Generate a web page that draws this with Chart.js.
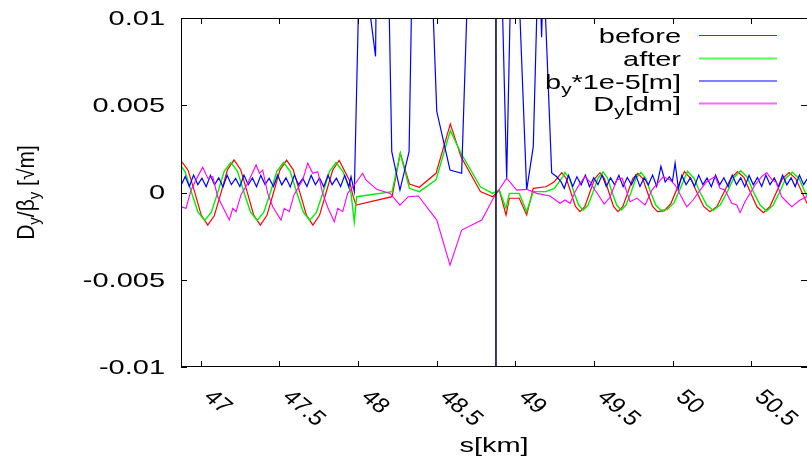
<!DOCTYPE html>
<html><head><meta charset="utf-8">
<script src="https://cdn.jsdelivr.net/npm/chart.js@4.4.1/dist/chart.umd.min.js"></script>
<style>html,body{margin:0;padding:0;background:#fff;}canvas{display:block;}</style>
</head><body>
<canvas id="c" width="807" height="463"></canvas>
<script>
// ---- axis ranges / ticks ----
const xRange = [46.876, 50.853];
const yRange = [-0.01, 0.01];
const xTicks = [47, 47.5, 48, 48.5, 49, 49.5, 50, 50.5];
const xTickLabels = ['47', '47.5', '48', '48.5', '49', '49.5', '50', '50.5'];
const yTicks = [-0.01, -0.005, 0, 0.005, 0.01];
const yTickLabels = ['-0.01', '-0.005', '0', '0.005', '0.01'];
const markerS = 48.877;

// ---- series: before (red) ----
const sBefore = [46.879,46.921,46.963,47.004,47.046,47.088,47.130,47.171,47.213,47.255,47.297,47.338,47.380,47.422,47.464,47.505,47.547,47.589,47.631,47.673,47.714,47.756,47.798,47.840,47.881,
47.945,47.967,47.988,48.217,48.269,48.327,48.390,48.496,48.587,48.655,48.778,48.856,48.898,48.941,48.962,49.025,49.072,49.114,49.195,49.248,
49.295,49.324,49.353,49.382,49.411,49.442,49.473,49.505,49.538,49.566,49.595,49.624,49.652,49.683,49.715,49.746,49.778,49.809,49.840,49.872,49.903,49.945,49.989,50.031,50.074,50.115,50.154,50.196,50.237,50.281,50.325,50.368,50.412,50.453,50.494,50.535,50.576,50.617,50.658,50.699,50.739,50.781,50.822,50.863];
const before = [0.00178,0.00128,0.00002,-0.00128,-0.00187,-0.00132,-0.00002,0.00130,0.00187,0.00131,0.00001,-0.00130,-0.00187,-0.00131,0.00000,0.00130,0.00186,0.00130,0.00001,-0.00130,-0.00187,-0.00131,0.00000,0.00129,0.00184,
0.00072,-0.00014,-0.00072,-0.00024,0.00225,0.00049,0.00030,0.00110,0.00393,0.00205,0.00005,-0.00024,0.00014,-0.00129,-0.00033,-0.00033,-0.00129,0.00024,0.00033,0.00062,
0.00114,0.00080,0.00000,-0.00080,-0.00110,-0.00080,0.00000,0.00080,0.00114,0.00080,0.00000,-0.00080,-0.00110,-0.00080,0.00000,0.00080,0.00110,0.00080,0.00000,-0.00080,-0.00110,-0.00105,-0.00062,0.00030,0.00120,0.00080,0.00000,-0.00080,-0.00110,-0.00080,0.00000,0.00080,0.00120,0.00085,0.00000,-0.00082,-0.00116,-0.00082,0.00000,0.00081,0.00114,0.00080,0.00000,-0.00080];

// ---- series: after (green) ----
const sAfter = [46.859,46.901,46.943,46.984,47.026,47.068,47.110,47.151,47.193,47.235,47.277,47.318,47.360,47.402,47.444,47.485,47.527,47.569,47.611,47.653,47.694,47.736,47.778,47.820,47.861,
47.905,47.956,47.977,47.992,48.217,48.269,48.327,48.390,48.496,48.587,48.655,48.778,48.856,48.898,48.941,48.962,49.025,49.072,49.114,49.195,49.248,49.301,
49.315,49.344,49.373,49.402,49.431,49.462,49.493,49.525,49.558,49.586,49.615,49.644,49.672,49.703,49.735,49.766,49.798,49.829,49.860,49.892,49.923,49.965,50.009,50.051,50.094,50.135,50.174,50.216,50.257,50.301,50.345,50.388,50.432,50.473,50.514,50.555,50.596,50.637,50.678,50.719,50.759,50.801,50.842,50.883];
const after = [0.00172,0.00122,0.00000,-0.00113,-0.00160,-0.00114,0.00001,0.00123,0.00173,0.00122,-0.00001,-0.00113,-0.00160,-0.00113,0.00000,0.00122,0.00172,0.00123,0.00001,-0.00112,-0.00160,-0.00114,0.00000,0.00122,0.00172,
0.00120,-0.00005,-0.00168,-0.00024,0.00005,0.00225,0.00024,0.00005,0.00072,0.00355,0.00225,0.00033,-0.00005,0.00014,-0.00091,-0.00005,-0.00005,-0.00110,0.00005,0.00005,0.00024,0.00090,
0.00115,0.00080,0.00000,-0.00072,-0.00102,-0.00072,0.00000,0.00082,0.00118,0.00082,0.00000,-0.00072,-0.00102,-0.00072,0.00000,0.00082,0.00115,0.00080,0.00000,-0.00072,-0.00100,-0.00098,-0.00058,0.00030,0.00122,0.00082,0.00000,-0.00072,-0.00102,-0.00072,0.00000,0.00085,0.00125,0.00088,0.00000,-0.00072,-0.00106,-0.00074,0.00000,0.00082,0.00116,0.00082,0.00000,-0.00072];

// ---- series: beta_y * 1e-5 [m] (blue) ----
const sBeta = [46.876,46.903,46.929,46.956,46.983,47.009,47.036,47.063,47.089,47.116,47.143,47.169,47.196,47.223,47.250,47.276,47.303,47.330,47.356,47.383,47.410,47.436,47.463,47.490,47.516,47.543,47.570,47.596,47.623,47.650,47.676,47.703,47.730,47.756,47.783,47.810,47.836,47.863,47.890,47.916,47.943,
47.956,47.977,48.013,48.064,48.112,48.121,48.153,48.191,48.215,48.267,48.325,48.350,48.407,48.464,48.501,48.585,48.659,48.699,48.808,48.909,48.945,48.979,49.011,49.072,49.114,49.144,49.154,49.167,49.179,49.231,49.263,49.290,49.311,
49.338,49.365,49.391,49.418,49.445,49.471,49.498,49.525,49.551,49.578,49.605,49.631,49.658,49.685,49.711,49.738,49.765,49.792,49.818,49.845,49.872,49.898,49.925,49.952,49.978,49.998,50.015,50.036,50.058,50.085,50.112,50.138,50.165,50.192,50.218,50.245,50.272,50.298,50.325,50.352,50.378,50.405,50.432,50.458,50.485,50.512,50.538,50.565,50.592,50.618,50.645,50.672,50.698,50.725,50.752,50.778,50.805,50.832,50.858];
const beta = [0.00040,0.00092,0.00034,0.00100,0.00045,0.00082,0.00033,0.00098,0.00044,0.00084,0.00032,0.00099,0.00045,0.00081,0.00034,0.00100,0.00044,0.00083,0.00033,0.00098,0.00046,0.00082,0.00034,0.00099,0.00044,0.00084,0.00032,0.00100,0.00045,0.00081,0.00034,0.00098,0.00044,0.00083,0.00033,0.00099,0.00045,0.00082,0.00034,0.00098,0.00033,
0.00091,0.00005,0.0143,0.0112,0.0078,0.0160,0.0200,0.0142,0.00234,0.00014,0.00234,0.0157,0.0250,0.0137,0.00464,0.00129,0.00110,0.0123,0.0300,0.0139,0.00083,0.0155,0.0144,0.00014,0.00263,0.0128,0.0130,0.0089,0.0130,0.00112,0.00090,0.00062,0.00024,
0.00098,0.00035,0.00090,0.00044,0.00100,0.00033,0.00085,0.00045,0.00100,0.00034,0.00084,0.00044,0.00099,0.00033,0.00086,0.00045,0.00098,0.00034,0.00085,0.00044,0.00100,0.00035,0.00150,0.00060,0.00090,0.00062,0.00168,0.00024,0.00098,0.00044,0.00084,0.00034,0.00100,0.00045,0.00083,0.00033,0.00099,0.00044,0.00085,0.00034,0.00100,0.00045,0.00084,0.00033,0.00098,0.00044,0.00086,0.00034,0.00100,0.00045,0.00083,0.00033,0.00099,0.00044,0.00085,0.00034,0.00100,0.00045,0.00084];

// ---- series: D_y [dm] (magenta) ----
const sDisp = [46.876,46.908,46.940,46.982,47.014,47.046,47.078,47.109,47.141,47.183,47.205,47.226,47.257,47.300,47.353,47.374,47.395,47.427,47.459,47.511,47.532,47.564,47.594,47.649,47.681,47.713,47.745,47.776,47.810,47.850,47.872,47.903,47.935,47.977,48.030,48.051,48.119,48.204,48.267,48.320,48.384,48.501,48.585,48.659,48.787,48.860,48.903,48.945,49.009,49.072,49.136,49.220,49.284,49.316,49.348,49.380,49.411,49.443,49.475,49.506,49.565,49.602,49.644,49.678,49.729,49.773,49.824,49.868,49.940,49.983,50.015,50.089,50.129,50.174,50.216,50.269,50.300,50.332,50.375,50.407,50.428,50.459,50.523,50.565,50.597,50.631,50.656,50.692,50.724,50.756,50.809,50.851,50.885];
const disp = [-0.00082,-0.00091,0.00014,0.00091,0.00145,0.00082,0.00091,-0.00024,-0.00082,-0.00158,-0.00091,-0.00110,-0.00014,0.00053,0.00158,0.00110,0.00129,-0.00005,-0.00082,-0.00158,-0.00091,-0.00110,-0.00014,0.00072,0.00168,0.00110,0.00119,-0.00005,-0.00089,-0.00168,-0.00091,-0.00110,-0.00005,0.00043,0.00110,0.00072,0.00018,-0.00005,-0.00072,-0.00024,-0.00020,-0.00158,-0.00416,-0.00215,-0.00158,-0.00033,0.00024,0.00082,0.00014,0.00018,-0.00005,-0.00020,-0.00062,-0.00043,-0.00062,0.00005,0.00053,0.00091,0.00060,0.00014,-0.00066,-0.00026,0.00072,0.00083,-0.00053,-0.00032,-0.00072,0.00014,0.00091,0.00072,0.00043,-0.00082,-0.00043,0.00014,0.00062,0.00091,0.00024,0.00014,-0.00062,-0.00072,-0.00116,-0.00053,0.00043,0.00091,0.00114,0.00072,0.00060,-0.00024,-0.00053,-0.00082,-0.00043,-0.00024,0.00014];

const pts = (xs, ys) => xs.map((x, i) => ({x: x, y: ys[i]}));

const FONT = '"Liberation Sans", Arial, Helvetica, sans-serif';
const STRETCH = 1.38;

function segWidth(ctx, segs, size, subSize) {
  let w = 0;
  for (const s of segs) {
    ctx.font = (s.sub ? subSize : size) + 'px ' + FONT;
    w += ctx.measureText(s.t).width;
  }
  return w;
}
function drawSegs(ctx, segs, x0, y0, size, subSize) {
  let x = x0;
  ctx.textAlign = 'left';
  ctx.textBaseline = 'alphabetic';
  for (const s of segs) {
    ctx.font = (s.sub ? subSize : size) + 'px ' + FONT;
    ctx.fillText(s.t, x, y0 + (s.sub ? 5 : 0));
    x += ctx.measureText(s.t).width;
  }
}

const decor = {
  id: 'gnuplotDecor',
  afterDatasetsDraw(chart) {
    const ctx = chart.ctx;
    const a = chart.chartArea;
    const xs = chart.scales.x, ys = chart.scales.y;
    ctx.save();
    // frame
    ctx.strokeStyle = '#000';
    ctx.lineWidth = 1;
    ctx.strokeRect(Math.round(a.left) + 0.5, Math.round(a.top) + 0.5, Math.round(a.right - a.left), Math.round(a.bottom - a.top) - 1);
    // tick marks (inward, mirrored)
    ctx.beginPath();
    const TL = 6;
    yTicks.forEach(v => {
      const y = Math.round(ys.getPixelForValue(v)) + 0.5;
      ctx.moveTo(a.left, y); ctx.lineTo(a.left + TL, y);
      ctx.moveTo(a.right, y); ctx.lineTo(a.right - TL, y);
    });
    xTicks.forEach(v => {
      const x = Math.round(xs.getPixelForValue(v)) + 0.5;
      ctx.moveTo(x, a.bottom); ctx.lineTo(x, a.bottom - TL);
      ctx.moveTo(x, a.top); ctx.lineTo(x, a.top + TL);
    });
    ctx.stroke();

    ctx.fillStyle = '#000';
    // y tick labels (horizontally wide, right aligned)
    ctx.font = '21px ' + FONT;
    ctx.textBaseline = 'middle';
    ctx.textAlign = 'right';
    yTicks.forEach((v, i) => {
      const y = ys.getPixelForValue(v) + 1;
      ctx.save();
      ctx.translate(165, y);
      ctx.scale(STRETCH, 1);
      ctx.fillText(yTickLabels[i], 0, 0);
      ctx.restore();
    });
    // x tick labels rotated clockwise, starting at the tick (slightly wide)
    ctx.textAlign = 'left';
    ctx.textBaseline = 'middle';
    xTicks.forEach((v, i) => {
      const x = xs.getPixelForValue(v);
      ctx.save();
      ctx.translate(x + 7, a.bottom + 27);
      ctx.scale(1.2, 1);
      ctx.rotate(Math.PI / 4);
      ctx.fillText(xTickLabels[i], 0, 0);
      ctx.restore();
    });
    // x axis title
    ctx.save();
    ctx.translate((a.left + a.right) / 2 - 0, 452);
    ctx.scale(STRETCH, 1);
    ctx.textAlign = 'center';
    ctx.textBaseline = 'alphabetic';
    ctx.fillText('s[km]', 0, 0);
    ctx.restore();
    // y axis title with subscripts
    const yTitle = [{t: 'D'}, {t: 'y', sub: true}, {t: '/\u03B2'}, {t: 'y', sub: true}, {t: ' [\u221Am]'}];
    const wT = segWidth(ctx, yTitle, 21, 15);
    ctx.save();
    ctx.translate(34, (a.top + a.bottom) / 2);
    ctx.scale(1.1, 1);
    ctx.rotate(-Math.PI / 2);
    drawSegs(ctx, yTitle, -wT / 2, 0, 21, 15);
    ctx.restore();

    // legend (gnuplot style: right-aligned text, sample line to the right)
    const rich = {
      'before': [{t: 'before'}],
      'after': [{t: 'after'}],
      'beta': [{t: 'b'}, {t: 'y', sub: true}, {t: '*1e-5[m]'}],
      'disp': [{t: 'D'}, {t: 'y', sub: true}, {t: '[dm]'}]
    };
    const rowY = [35, 58, 80.5, 103];
    let row = 0;
    chart.data.datasets.forEach(ds => {
      if (!ds.legendKey) return;
      const y = rowY[row++];
      const segs = rich[ds.legendKey];
      const w = segWidth(ctx, segs, 21, 15) * STRETCH;
      ctx.save();
      ctx.translate(681 - w, y + 8);
      ctx.scale(STRETCH, 1);
      ctx.fillStyle = '#000';
      drawSegs(ctx, segs, 0, 0, 21, 15);
      ctx.restore();
      ctx.beginPath();
      ctx.strokeStyle = ds.legendColor;
      ctx.lineWidth = ds.legendWidth;
      ctx.moveTo(699, y + 0.5); ctx.lineTo(777, y + 0.5);
      ctx.stroke();
    });
    ctx.restore();
  }
};

new Chart(document.getElementById('c'), {
  type: 'line',
  data: {
    datasets: [
      {label: 'before', legendKey: 'before', data: pts(sBefore, before), borderColor: '#ff0000', borderWidth: 1.2, legendColor: '#ff0000', legendWidth: 1, order: 5},
      {label: 'after', legendKey: 'after', data: pts(sAfter, after), borderColor: '#00ee00', borderWidth: 1.4, legendColor: '#55ff55', legendWidth: 2, order: 4},
      {label: 'b_y*1e-5[m]', legendKey: 'beta', data: pts(sBeta, beta), borderColor: '#0000ff', borderWidth: 1.2, legendColor: '#0000ff', legendWidth: 1, order: 3},
      {label: 'D_y[dm]', legendKey: 'disp', data: pts(sDisp, disp), borderColor: '#ff00ff', borderWidth: 1.1, legendColor: '#ff66ff', legendWidth: 2, order: 2},
      {label: 'marker', data: [{x: markerS, y: yRange[0]}, {x: markerS, y: yRange[1]}], borderColor: '#0a0a30', borderWidth: 1.6, order: 1}
    ]
  },
  options: {
    responsive: false,
    animation: false,
    devicePixelRatio: 1,
    layout: {padding: {left: 181, top: 18, right: 0, bottom: 96}},
    elements: {point: {radius: 0, hoverRadius: 0}, line: {tension: 0, fill: false}},
    plugins: {legend: {display: false}, tooltip: {enabled: false}},
    scales: {
      x: {type: 'linear', min: xRange[0], max: xRange[1], display: false},
      y: {type: 'linear', min: yRange[0], max: yRange[1], display: false}
    }
  },
  plugins: [decor]
});
</script>
</body></html>
